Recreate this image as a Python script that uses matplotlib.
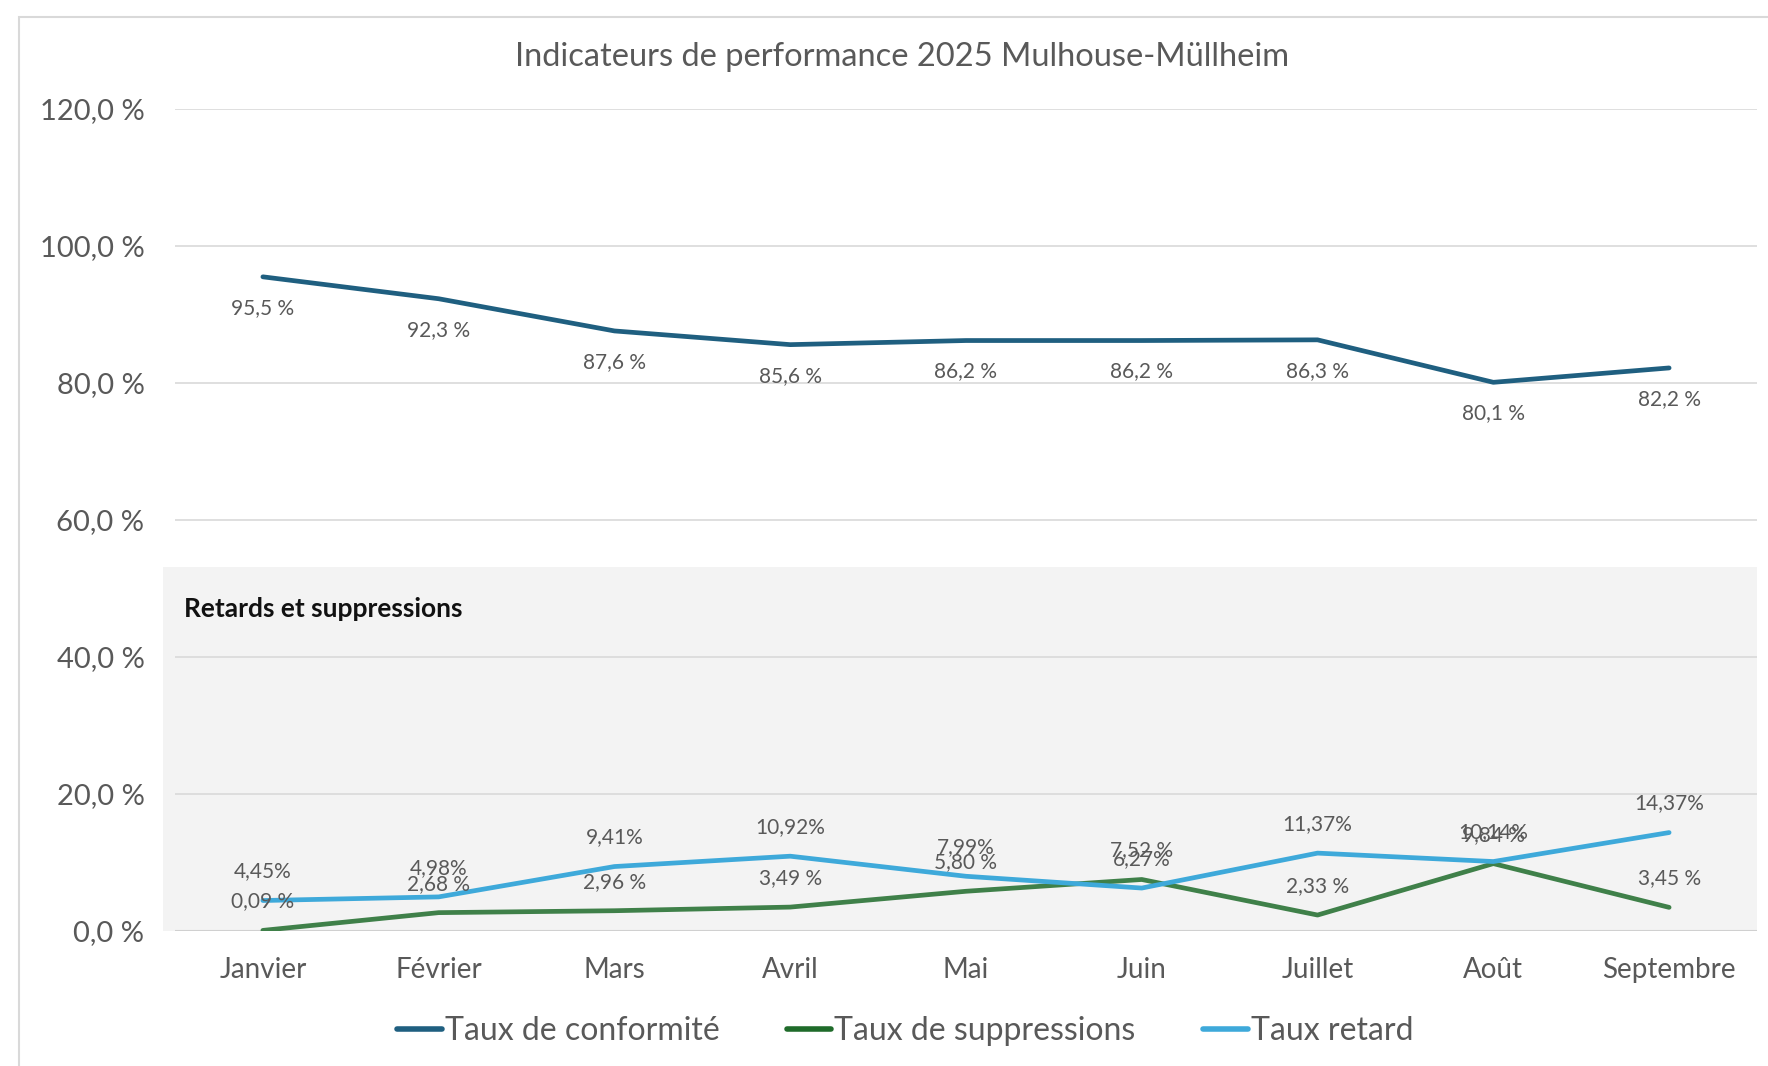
import matplotlib
matplotlib.use("Agg")
import matplotlib.pyplot as plt
from matplotlib.patches import Rectangle
from matplotlib.lines import Line2D

months = ["Janvier", "Février", "Mars", "Avril", "Mai", "Juin", "Juillet", "Août", "Septembre"]
conformite = [95.5, 92.3, 87.6, 85.6, 86.2, 86.2, 86.3, 80.1, 82.2]
suppressions = [0.09, 2.68, 2.96, 3.49, 5.80, 7.52, 2.33, 9.84, 3.45]
retard = [4.45, 4.98, 9.41, 10.92, 7.99, 6.27, 11.37, 10.14, 14.37]
yticks = [0, 20, 40, 60, 80, 100, 120]

title = "Indicateurs de performance 2025 Mulhouse-Müllheim"
series_names = ["Taux de conformité", "Taux de suppressions", "Taux retard"]

c_conf = "#1f5f80"
c_supp = "#3f8049"
c_ret = "#3ea9da"
c_supp_leg = "#1f6b2a"
c_text = "#595959"

plt.rcParams['font.family'] = ['Lato', 'DejaVu Sans']

fig = plt.figure(figsize=(17.68, 10.66), dpi=100)
ax = fig.add_axes([175/1768, 135/1066, (1757-175)/1768, (957-135)/1066])

# outer border
fig.patches.append(Rectangle((19/1768, -0.05), 1.1, 1 - 17/1066 + 0.05, transform=fig.transFigure,
                             fill=False, edgecolor="#d9d9d9", linewidth=1.5))

x = list(range(len(months)))
ax.set_xlim(-0.5, 8.5)
ax.set_ylim(0, 120)

# shaded panel
ax.add_patch(Rectangle((-0.57, 0), 9.07, 53.2, facecolor="#f3f3f3", edgecolor="none",
                       zorder=0, clip_on=False))
ax.text(-0.45, 47.0, "Retards et suppressions", fontsize=19, fontweight="bold",
        color="#111111", va="center", ha="left", zorder=3)

for yv in yticks[1:]:
    ax.axhline(yv, color="#d9d9d9", linewidth=1.2, zorder=1)
ax.axhline(0, color="#d0d0d0", linewidth=1.5, zorder=1)

ax.plot(x, conformite, color=c_conf, linewidth=3.4, zorder=4, solid_capstyle="round")
ax.plot(x, suppressions, color=c_supp, linewidth=3.4, zorder=4, solid_capstyle="round")
ax.plot(x, retard, color=c_ret, linewidth=3.4, zorder=5, solid_capstyle="round")

def fr(v, dec, space):
    s = f"{v:.{dec}f}".replace(".", ",")
    return s + (" %" if space else "%")

for xi, v in zip(x, conformite):
    ax.annotate(fr(v, 1, True), (xi, v), xytext=(0, -31), textcoords="offset pixels",
                ha="center", va="center", fontsize=15, color=c_text, zorder=6)
for xi, v in zip(x, suppressions):
    ax.annotate(fr(v, 2, True), (xi, v), xytext=(0, 29), textcoords="offset pixels",
                ha="center", va="center", fontsize=15, color=c_text, zorder=6)
for xi, v in zip(x, retard):
    ax.annotate(fr(v, 2, False), (xi, v), xytext=(0, 29), textcoords="offset pixels",
                ha="center", va="center", fontsize=15, color=c_text, zorder=6)

ax.set_xticks(x)
ax.set_xticklabels(months, fontsize=20, color=c_text)
ax.set_yticks(yticks)
ax.set_yticklabels([f"{v:.1f}".replace(".", ",") + " %" for v in yticks], fontsize=21, color=c_text)
ax.tick_params(axis="both", length=0)
ax.tick_params(axis="x", pad=19)
ax.tick_params(axis="y", pad=22)
for s in ax.spines.values():
    s.set_visible(False)
ax.set_facecolor("none")

fig.text(902/1768, 1 - 57/1066, title, ha="center", va="center", fontsize=23.5, color=c_text)

handles = [Line2D([], [], color=c_conf, linewidth=4, solid_capstyle="round"),
           Line2D([], [], color=c_supp_leg, linewidth=4, solid_capstyle="round"),
           Line2D([], [], color=c_ret, linewidth=4, solid_capstyle="round")]
fig.legend(handles, series_names, loc="center", bbox_to_anchor=(905/1768, 1 - 1031/1066),
           ncol=3, frameon=False, fontsize=23, handlelength=1.4, handletextpad=0.1,
           columnspacing=2.1, labelcolor=c_text)

fig.savefig("out.png", dpi=100)
